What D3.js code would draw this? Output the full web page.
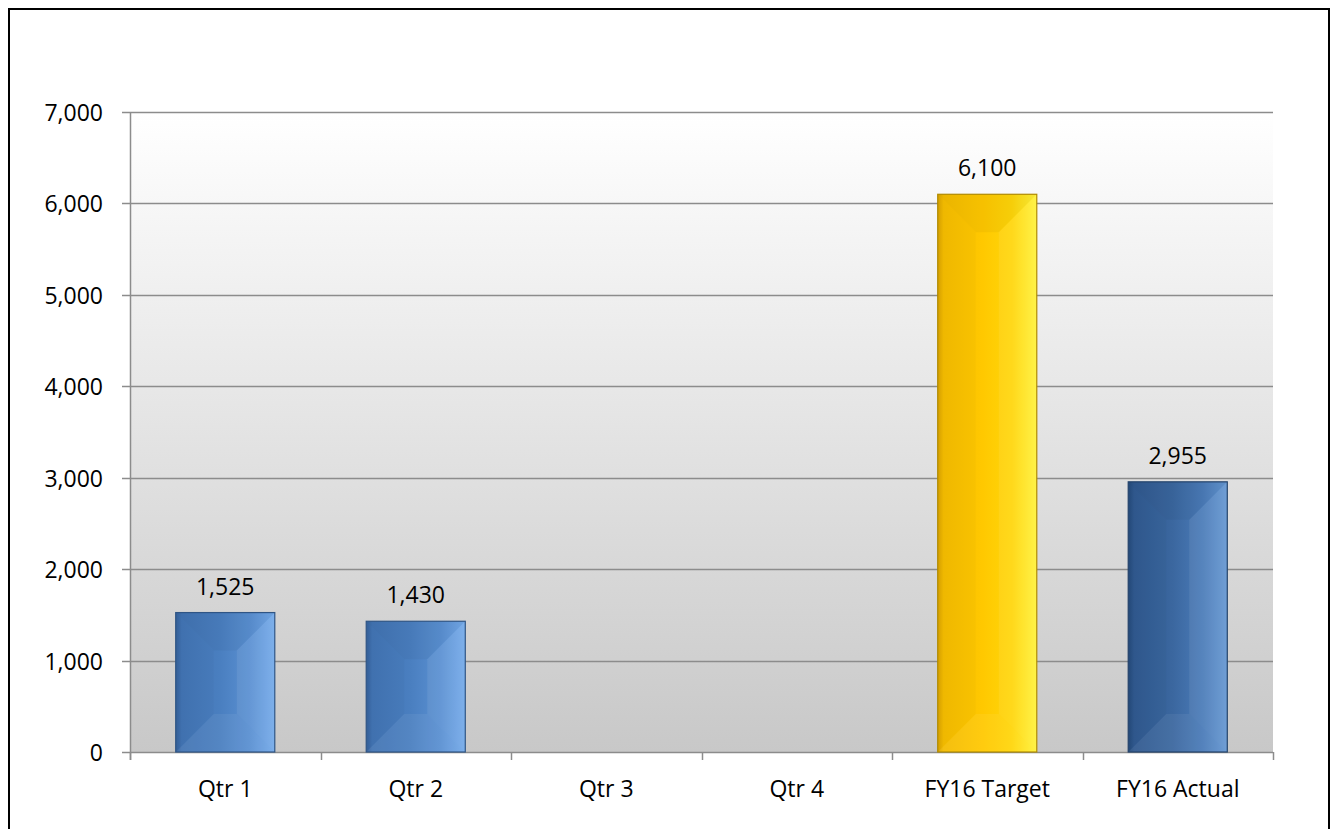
<!DOCTYPE html>
<html>
<head>
<meta charset="utf-8">
<script src="https://cdn.jsdelivr.net/npm/d3@7"></script>
<style>
  html, body { margin: 0; padding: 0; background: #fff; }
  svg { display: block; }
  text { font-family: "Open Sans", sans-serif; fill: #000; }
</style>
</head>
<body>
<svg id="chart" width="1335" height="829"></svg>
<script>
// Categories and values
const categories = ["Qtr 1", "Qtr 2", "Qtr 3", "Qtr 4", "FY16 Target", "FY16 Actual"];
const values = [1525, 1430, null, null, 6100, 2955];
const barStyles = ["blue", "blue", "blue", "blue", "gold", "navy"];
const yTicks = [0, 1000, 2000, 3000, 4000, 5000, 6000, 7000];

const W = 1335, H = 829;
const margin = { left: 130, right: 62, top: 112, bottom: 77 };
const fontSize = "23px";
const svg = d3.select("#chart");
const defs = svg.append("defs");

// Outer frame
svg.append("rect")
  .attr("x", 9).attr("y", 9)
  .attr("width", 1320).attr("height", 840)
  .attr("fill", "#fff").attr("stroke", "#000").attr("stroke-width", 2);

const x = d3.scaleBand().domain(categories)
  .range([margin.left, W - margin.right])
  .paddingInner(0.48).paddingOuter(0.24);
const y = d3.scaleLinear().domain([0, 7000]).range([H - margin.bottom, margin.top]);

// Plot background: vertical white-to-grey gradient
const bg = defs.append("linearGradient").attr("id", "bg")
  .attr("x1", 0).attr("y1", 0).attr("x2", 0).attr("y2", 1);
bg.append("stop").attr("offset", "0%").attr("stop-color", "#ffffff");
bg.append("stop").attr("offset", "100%").attr("stop-color", "#c8c8c8");

svg.append("rect")
  .attr("x", margin.left).attr("y", y(7000))
  .attr("width", W - margin.right - margin.left)
  .attr("height", y(0) - y(7000))
  .attr("fill", "url(#bg)");

// Horizontal gridlines
svg.append("g")
  .selectAll("line").data(yTicks).join("line")
  .attr("x1", margin.left - 8).attr("x2", W - margin.right)
  .attr("y1", d => Math.round(y(d)) + 0.5).attr("y2", d => Math.round(y(d)) + 0.5)
  .attr("stroke", "#8c8c8c").attr("stroke-width", 1.5);

// Y axis line
svg.append("line")
  .attr("x1", margin.left + 0.5).attr("x2", margin.left + 0.5)
  .attr("y1", y(7000)).attr("y2", y(0) + 8)
  .attr("stroke", "#8c8c8c").attr("stroke-width", 1.5);

// Y tick labels
svg.append("g")
  .selectAll("text").data(yTicks).join("text")
  .attr("x", 103).attr("y", d => y(d))
  .attr("text-anchor", "end").attr("dominant-baseline", "central")
  .style("font-size", fontSize)
  .text(d => d3.format(",")(d));

// Category tick marks at band boundaries
const bounds = d3.range(categories.length + 1).map(i => margin.left + i * (W - margin.right - margin.left) / categories.length);
svg.append("g")
  .selectAll("line").data(bounds).join("line")
  .attr("x1", d => Math.round(d) + 0.5).attr("x2", d => Math.round(d) + 0.5)
  .attr("y1", y(0)).attr("y2", y(0) + 8)
  .attr("stroke", "#8c8c8c").attr("stroke-width", 1.5);

// Category labels
svg.append("g")
  .selectAll("text").data(categories).join("text")
  .attr("x", d => x(d) + x.bandwidth() / 2).attr("y", 797)
  .attr("text-anchor", "middle")
  .style("font-size", fontSize)
  .text(d => d);

// Bar colour ramps (left dark -> right light)
const palettes = {
  blue: { stops: [["0%", "#35609a"], ["6%", "#4274b3"], ["45%", "#4a7fc0"], ["75%", "#5a90d2"], ["100%", "#74aaea"]], edge: "#2f5585" },
  navy: { stops: [["0%", "#244a7a"], ["6%", "#30598f"], ["45%", "#3b679f"], ["75%", "#4a7bb8"], ["100%", "#6597d2"]], edge: "#24436b" },
  gold: { stops: [["0%", "#d9a300"], ["6%", "#f4bc00"], ["45%", "#ffc800"], ["75%", "#ffd60a"], ["100%", "#fff23a"]], edge: "#b08a00" }
};
Object.entries(palettes).forEach(([k, p]) => {
  const g = defs.append("linearGradient").attr("id", "bar-" + k)
    .attr("x1", 0).attr("y1", 0).attr("x2", 1).attr("y2", 0);
  p.stops.forEach(s => g.append("stop").attr("offset", s[0]).attr("stop-color", s[1]));
});

const data = categories.map((c, i) => ({ c, v: values[i], s: barStyles[i] }))
  .filter(d => d.v != null);

const bars = svg.append("g").selectAll("g").data(data).join("g");

bars.each(function(d) {
  const g = d3.select(this);
  const x0 = x(d.c), x1 = x0 + x.bandwidth();
  const y0 = y(d.v), y1 = y(0);
  const w = x1 - x0, h = y1 - y0;
  const b = Math.min(38, w / 2, h / 2);
  const p = palettes[d.s];

  g.append("rect").attr("x", x0).attr("y", y0).attr("width", w).attr("height", h)
    .attr("fill", "url(#bar-" + d.s + ")");

  const facet = (pts, fill, op) => g.append("polygon")
    .attr("points", pts.map(q => q.join(",")).join(" "))
    .attr("fill", fill).attr("fill-opacity", op);

  // Bevel facets, lit from the right
  facet([[x0, y0], [x1, y0], [x1 - b, y0 + b], [x0 + b, y0 + b]], "#000", 0.035);
  facet([[x1, y0], [x1, y1], [x1 - b, y1 - b], [x1 - b, y0 + b]], "#fff", 0.07);
  facet([[x0, y1], [x1, y1], [x1 - b, y1 - b], [x0 + b, y1 - b]], "#fff", 0.06);
  facet([[x0, y0], [x0 + b, y0 + b], [x0 + b, y1 - b], [x0, y1]], "#000", 0.02);

  g.append("rect").attr("x", x0).attr("y", y0).attr("width", w).attr("height", h)
    .attr("fill", "none").attr("stroke", p.edge).attr("stroke-width", 1.2);

  // Value label
  g.append("text")
    .attr("x", x0 + w / 2).attr("y", y0 - 18)
    .attr("text-anchor", "middle")
    .style("font-size", fontSize)
    .text(d3.format(",")(d.v));
});
</script>
</body>
</html>
